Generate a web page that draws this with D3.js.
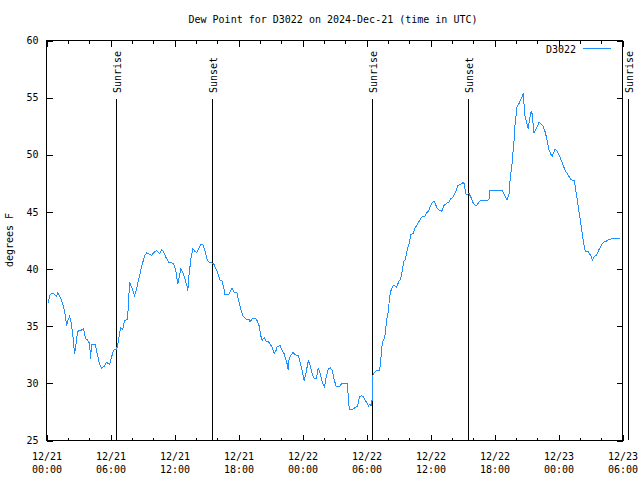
<!DOCTYPE html>
<html>
<head>
<meta charset="utf-8">
<script src="https://cdn.jsdelivr.net/npm/d3@7"></script>
<style>
  html, body { margin: 0; padding: 0; background: #fff; }
  svg { display: block; }
  text { font-family: "DejaVu Sans Mono", "Liberation Mono", monospace; font-size: 10px; fill: #000; }
</style>
</head>
<body>
<svg id="chart" width="640" height="480"></svg>
<script>
// ---- data ----
const titleText = "Dew Point for D3022 on 2024-Dec-21 (time in UTC)";
const seriesName = "D3022";
const yLabel = "degrees F";
const startTime = "2024-12-21T00:00:00Z";
const endTime = "2024-12-23T06:00:00Z";
// hours since 2024-12-21 00:00 UTC
const hoursSinceStart = [
  0.19,0.28,0.56,0.75,0.94,1.03,1.22,1.41,1.60,1.78,1.88,1.97,2.16,2.30,2.44,2.63,2.81,2.91,3.38,3.47,
  3.66,3.85,4.04,4.13,4.22,4.55,4.69,4.79,4.97,5.16,5.44,5.63,5.91,6.10,6.29,6.57,6.66,6.85,6.94,7.13,
  7.32,7.60,7.70,7.79,7.98,8.26,8.45,8.74,8.92,9.20,9.39,9.67,9.86,10.05,10.33,10.61,10.80,10.99,11.18,11.46,
  11.74,11.93,12.12,12.31,12.41,12.59,12.78,12.97,13.16,13.25,13.35,13.54,13.72,13.91,14.10,14.29,14.48,14.66,14.85,15.04,
  15.23,15.51,15.70,15.89,16.08,16.26,16.45,16.64,16.73,17.11,17.39,17.58,17.86,18.05,18.24,18.42,18.61,18.80,18.99,19.08,
  19.27,19.55,19.74,19.93,20.12,20.21,20.40,20.59,20.77,20.96,21.15,21.34,21.53,21.62,21.90,22.09,22.28,22.37,22.56,22.65,
  22.75,22.94,23.12,23.31,23.59,23.78,23.97,24.16,24.35,24.54,24.73,24.91,25.10,25.29,25.48,25.67,25.86,26.05,26.23,26.42,
  26.61,26.80,26.99,27.17,27.46,27.65,28.21,28.31,28.40,28.68,28.87,29.15,29.34,29.53,29.72,30.00,30.19,30.28,30.47,30.55,
  30.60,30.66,30.94,31.22,31.31,31.41,31.50,31.69,31.78,31.88,32.06,32.16,32.34,32.53,32.72,32.81,33.00,33.19,33.38,33.47,
  33.66,33.85,34.04,34.13,34.41,34.51,34.69,34.88,35.07,35.26,35.45,35.64,35.82,36.01,36.20,36.39,36.58,36.76,37.05,37.24,
  37.52,37.71,37.90,38.09,38.27,38.46,38.56,38.84,39.03,39.12,39.31,39.41,39.59,39.78,39.97,40.16,40.35,40.54,40.72,41.48,
  41.57,42.70,42.89,43.17,43.36,43.46,43.64,43.83,43.93,44.11,44.30,44.49,44.68,44.77,44.87,45.05,45.15,45.24,45.43,45.52,
  45.62,45.71,45.90,46.09,46.18,46.37,46.56,46.75,46.94,47.12,47.31,47.41,47.59,47.69,47.88,48.07,48.26,48.45,48.63,48.82,
  49.01,49.20,49.48,49.67,49.86,50.05,50.23,50.42,50.52,50.80,51.08,51.18,51.36,51.55,51.74,52.02,52.21,52.49,52.68,52.96,
  53.72
];
const dewPointF = [
  37.0,37.7,37.9,37.8,37.6,37.9,37.7,37.25,36.7,35.9,35.0,35.4,35.85,35.35,34.5,32.6,33.75,34.55,34.7,34.8,
  33.9,33.8,33.5,32.15,33.4,33.4,32.9,32.45,31.7,31.35,31.5,31.85,31.65,32.3,32.9,33.0,33.3,34.3,34.85,34.7,
  35.5,35.6,37.3,38.85,38.4,37.7,38.3,39.5,40.2,41.2,41.4,41.3,41.2,41.45,41.6,41.35,41.7,41.5,41.05,40.6,
  40.55,40.45,39.9,38.7,39.15,40.0,39.7,39.15,38.55,38.1,39.4,40.9,41.8,41.55,41.45,41.8,42.2,42.15,41.6,40.9,
  40.6,40.55,40.4,40.0,39.6,39.05,39.0,38.3,37.8,37.8,38.35,38.0,37.9,37.1,36.4,35.9,35.7,35.55,35.6,35.35,
  35.65,35.7,35.5,35.05,34.05,33.75,34.0,33.7,33.7,33.45,33.15,32.6,32.9,33.2,33.3,32.9,32.6,32.3,31.7,31.2,
  32.15,32.5,32.7,32.5,32.45,31.85,31.1,30.25,31.0,32.0,31.55,30.8,30.4,30.4,31.35,30.8,30.1,29.7,30.55,31.3,
  31.35,31.1,30.25,29.7,29.7,29.95,29.95,28.5,27.7,27.7,27.85,28.0,28.8,28.95,28.8,28.35,28.0,28.15,28.05,28.8,
  30.7,30.85,31.1,31.1,31.7,32.9,33.6,34.0,34.5,35.5,36.4,37.55,38.3,38.55,38.5,38.4,38.85,39.15,39.9,40.6,
  40.9,41.8,42.35,43.0,43.15,43.5,43.8,44.1,44.4,44.6,44.6,44.9,45.1,45.55,45.85,45.9,45.4,45.2,45.05,45.55,
  45.75,45.85,46.15,46.3,46.6,47.0,47.3,47.45,47.55,47.6,46.6,46.5,46.65,46.3,45.85,45.6,45.6,45.85,46.0,46.05,
  46.9,46.9,46.55,46.05,46.55,47.75,49.2,51.25,52.7,54.15,54.5,54.9,55.3,54.45,53.3,52.7,52.3,52.85,53.8,53.6,
  52.7,51.9,52.3,52.6,52.85,52.7,52.5,52.0,51.25,50.4,50.0,49.85,50.3,50.5,50.3,49.95,49.5,49.05,48.6,48.35,
  48.05,47.8,47.75,46.6,45.4,44.25,43.1,41.9,41.55,41.5,41.1,40.8,41.1,41.2,41.6,42.1,42.35,42.45,42.55,42.65,
  42.65
];
const sunEventNames = ["Sunrise", "Sunset", "Sunrise", "Sunset", "Sunrise"];
const sunEventTimes = ["2024-12-21T06:33:00Z", "2024-12-21T15:33:00Z", "2024-12-22T06:33:00Z", "2024-12-22T15:33:00Z", "2024-12-23T06:33:00Z"];
const yTickValues = [25, 30, 35, 40, 45, 50, 55, 60];
const yDomain = [25, 60];

(function draw() {
  const svg = d3.select("#chart");
  const mLeft = 46, mRight = 622, mTop = 40, mBottom = 440;
  const lineColor = "#1e8fff";

  const t0 = new Date(startTime);
  const t1 = new Date(endTime);
  const x = d3.scaleUtc().domain([t0, t1]).range([mLeft, mRight]);
  const y = d3.scaleLinear().domain(yDomain).range([mBottom, mTop]);

  const data = hoursSinceStart.map((h, i) => ({ t: new Date(t0.getTime() + h * 3600e3), v: dewPointF[i] }));

  svg.append("text").attr("x", 333).attr("y", 23).attr("text-anchor", "middle").text(titleText);

  const tEnd = new Date(t1.getTime() + 1);
  const majorTicks = d3.utcHour.every(6).range(t0, tEnd);
  const minorTicks = d3.utcHour.every(2).range(t0, tEnd).filter(d => d.getUTCHours() % 6 !== 0);

  function clean(g) {
    g.select(".domain").remove();
    g.selectAll("line").attr("stroke", "#000").attr("shape-rendering", "crispEdges");
  }

  const gB = svg.append("g").attr("transform", `translate(0.5,${mBottom + 0.5})`)
    .call(d3.axisBottom(x).tickValues(majorTicks).tickSizeInner(-6).tickSizeOuter(0).tickPadding(10)
      .tickFormat(d3.utcFormat("%m/%d")));
  clean(gB);
  gB.selectAll("text").each(function(d) {
    const t = d3.select(this);
    t.text(null).attr("y", 0).attr("dy", null);
    t.append("tspan").attr("x", 0).attr("y", 19).text(d3.utcFormat("%m/%d")(d));
    t.append("tspan").attr("x", 0).attr("y", 32).text(d3.utcFormat("%H:%M")(d));
  });
  gB.selectAll("text").style("font-family", '"DejaVu Sans Mono", monospace').style("font-size", "10px").attr("fill", "#000");

  const gBm = svg.append("g").attr("transform", `translate(0.5,${mBottom + 0.5})`)
    .call(d3.axisBottom(x).tickValues(minorTicks).tickSizeInner(-3).tickSizeOuter(0).tickFormat(""));
  clean(gBm);

  const gT = svg.append("g").attr("transform", `translate(0.5,${mTop + 0.5})`)
    .call(d3.axisTop(x).tickValues(majorTicks).tickSizeInner(-6).tickSizeOuter(0).tickFormat(""));
  clean(gT);
  const gTm = svg.append("g").attr("transform", `translate(0.5,${mTop + 0.5})`)
    .call(d3.axisTop(x).tickValues(minorTicks).tickSizeInner(-3).tickSizeOuter(0).tickFormat(""));
  clean(gTm);

  const gL = svg.append("g").attr("transform", `translate(${mLeft + 0.5},0.5)`)
    .call(d3.axisLeft(y).tickValues(yTickValues).tickSizeInner(-6).tickSizeOuter(0).tickPadding(8).tickFormat(d3.format("d")));
  clean(gL);
  gL.selectAll("text").style("font-family", '"DejaVu Sans Mono", monospace').style("font-size", "10px").attr("fill", "#000");

  const gR = svg.append("g").attr("transform", `translate(${mRight + 0.5},0.5)`)
    .call(d3.axisRight(y).tickValues(yTickValues).tickSizeInner(-6).tickSizeOuter(0).tickFormat(""));
  clean(gR);

  svg.append("rect").attr("x", mLeft + 0.5).attr("y", mTop + 0.5)
    .attr("width", mRight - mLeft).attr("height", mBottom - mTop)
    .attr("fill", "none").attr("stroke", "#000").attr("shape-rendering", "crispEdges");

  svg.append("text").attr("transform", `translate(13,${(mTop + mBottom) / 2}) rotate(-90)`)
    .attr("text-anchor", "middle").text(yLabel);

  sunEventTimes.forEach((s, i) => {
    const xp = Math.round(x(new Date(s))) + 0.5;
    svg.append("line").attr("x1", xp).attr("x2", xp).attr("y1", 99).attr("y2", mBottom)
      .attr("stroke", "#000").attr("shape-rendering", "crispEdges");
    svg.append("text").attr("transform", `translate(${xp + 4},93) rotate(-90)`)
      .attr("text-anchor", "start").text(sunEventNames[i]);
  });

  svg.append("path").datum(data)
    .attr("fill", "none").attr("stroke", lineColor).attr("stroke-width", 1)
    .attr("shape-rendering", "crispEdges")
    .attr("d", d3.line().x(d => x(d.t) + 0.5).y(d => y(d.v) + 0.5));

  svg.append("text").attr("x", 576).attr("y", 53).attr("text-anchor", "end").text(seriesName);
  svg.append("line").attr("x1", 583).attr("x2", 611).attr("y1", 48.5).attr("y2", 48.5)
    .attr("stroke", lineColor).attr("stroke-width", 1).attr("shape-rendering", "crispEdges");
})();
</script>
</body>
</html>
